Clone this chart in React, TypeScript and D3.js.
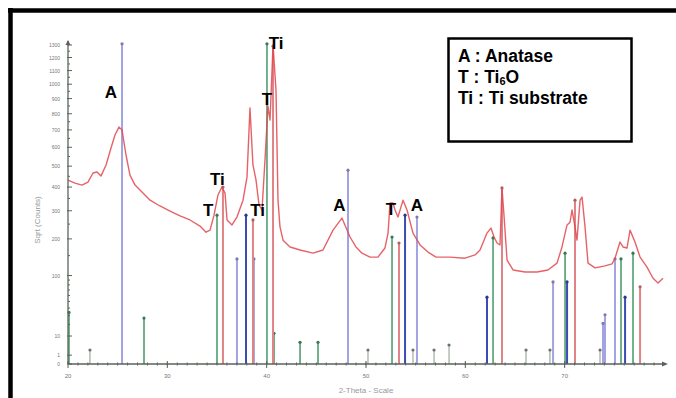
import React, { useEffect, useRef } from "react";
import * as d3 from "d3";

// measured scan (2-theta in degrees, counts)
const scanTheta = [
  20.0, 20.7, 21.41, 22.01, 22.52, 22.92, 23.32, 23.83, 24.33, 24.73, 25.13, 25.44, 25.84,
  26.24, 26.75, 27.25, 28.26, 29.26, 30.27, 31.28, 32.28, 33.29, 33.89, 34.3, 34.7, 35.1,
  35.5, 35.81, 36.01, 36.51, 37.01, 37.62, 38.02, 38.32, 38.62, 38.93, 39.23, 39.53, 39.83,
  40.13, 40.34, 40.64, 40.94, 41.14, 41.34, 41.65, 42.35, 43.36, 44.67, 45.67, 46.68, 47.58,
  48.39, 48.99, 49.6, 50.4, 51.21, 51.91, 52.22, 52.42, 52.72, 52.92, 53.22, 53.73, 54.13,
  54.73, 55.44, 56.24, 57.05, 58.46, 59.97, 60.98, 61.48, 62.18, 62.58, 62.89, 63.19, 63.49,
  63.69, 63.89, 64.2, 64.8, 66.01, 67.22, 68.32, 69.23, 69.73, 70.24, 70.54, 70.74, 71.04,
  71.24, 71.55, 71.75, 72.05, 72.35, 73.06, 74.06, 74.77, 75.07, 75.57, 75.87, 76.28, 76.58,
  77.08, 77.59, 78.29, 78.9, 79.4, 79.9,
];
const scanCounts = [
  432, 418, 409, 423, 466, 471, 451, 506, 596, 670, 717, 699, 558,
  456, 409, 387, 343, 319, 299, 280, 265, 243, 222, 229, 283, 365,
  400, 373, 265, 247, 276, 343, 446, 837, 506, 432, 323, 303, 531,
  850, 760, 1300, 958, 343, 240, 196, 175, 166, 157, 166, 229, 272,
  206, 175, 157, 146, 146, 172, 219, 331, 331, 303, 276, 343, 303,
  219, 181, 160, 146, 146, 143, 152, 166, 219, 236, 206, 187, 181,
  396, 283, 138, 113, 108, 108, 113, 130, 175, 247, 257, 303, 240,
  196, 343, 356, 240, 130, 118, 123, 128, 143, 190, 175, 172, 229,
  190, 146, 120, 94, 84, 94,
];

// reference pattern sticks
const lavenderTheta = [25.44, 37.01, 38.72, 48.19, 55.13, 68.83, 73.86, 74.06, 75.07];
const lavenderCounts = [1310, 141, 141, 480, 276, 86, 21, 31, 141];
const darkBlueTheta = [37.92, 53.93, 62.18, 70.24, 76.08];
const darkBlueCounts = [283, 283, 57, 86, 57];
const greenTheta = [20.1, 27.65, 35.0, 40.03, 40.74, 43.36, 45.17, 52.62, 62.79, 70.04, 75.67, 76.88];
const greenCounts = [34, 27, 283, 1310, 12, 6, 6, 206, 203, 157, 141, 157];
const redTheta = [35.6, 38.62, 40.64, 53.32, 63.69, 71.04, 77.59];
const redCounts = [400, 265, 1290, 187, 396, 343, 76];
const greyTheta = [22.21, 50.2, 54.73, 56.85, 58.36, 66.11, 68.52, 73.56];
const greyCounts = [2.5, 2.5, 2.5, 2.5, 4.6, 2.5, 2.5, 2.5];

// axis ticks
const xTickValues = [20, 30, 40, 50, 60, 70];
const yTickValues = [0, 1, 10, 100, 200, 300, 400, 500, 600, 700, 800, 900, 1000, 1100, 1200, 1300];

// peak labels
const peakText = ["A", "Ti", "T", "Ti", "T", "Ti", "A", "T", "A"];
const peakTheta = [23.7, 40.2, 39.5, 34.3, 33.6, 38.35, 46.7, 52.0, 54.5];
const peakCounts = [905, 1265, 860, 408, 280, 280, 300, 285, 300];

const legendRows = ["A : Anatase", "T : Ti|6|O", "Ti : Ti substrate"];

function drawChart(el: SVGSVGElement) {
  const svg = d3.select(el);
  svg.selectAll("*").remove();

  const x = d3.scaleLinear().domain([20, 80]).range([68, 664]);
  const y = d3.scaleSqrt().domain([0, 1300]).range([364, 45]);

  svg.append("rect").attr("width", 676).attr("height", 398).attr("fill", "#fff");

  // frame: left and top edges
  svg
    .append("line")
    .attr("x1", 10.5)
    .attr("x2", 10.5)
    .attr("y1", 8)
    .attr("y2", 398)
    .attr("stroke", "#000")
    .attr("stroke-width", 4.5);
  svg
    .append("line")
    .attr("x1", 8)
    .attr("x2", 676)
    .attr("y1", 10.5)
    .attr("y2", 10.5)
    .attr("stroke", "#000")
    .attr("stroke-width", 4.5);

  // sticks
  const groups = [
    { t: greyTheta, c: greyCounts, color: "#8a9a8a", w: 1 },
    { t: lavenderTheta, c: lavenderCounts, color: "#a3a3e4", w: 2 },
    { t: greenTheta, c: greenCounts, color: "#4f9e70", w: 1.6 },
    { t: redTheta, c: redCounts, color: "#e08387", w: 2 },
    { t: darkBlueTheta, c: darkBlueCounts, color: "#3b4cb3", w: 2 },
  ];
  groups.forEach((g) => {
    const pts = g.t.map((t, i) => ({ t, c: g.c[i] }));
    const gg = svg.append("g");
    gg.selectAll("line")
      .data(pts)
      .enter()
      .append("line")
      .attr("x1", (d) => x(d.t))
      .attr("x2", (d) => x(d.t))
      .attr("y1", y(0))
      .attr("y2", (d) => y(d.c))
      .attr("stroke", g.color)
      .attr("stroke-width", g.w);
    gg.selectAll("circle")
      .data(pts)
      .enter()
      .append("circle")
      .attr("cx", (d) => x(d.t))
      .attr("cy", (d) => y(d.c))
      .attr("r", 1.6)
      .attr("fill", d3.color(g.color)!.darker(0.8).toString());
  });

  // scan line
  const line = d3
    .line<number>()
    .x((d, i) => x(scanTheta[i]))
    .y((d) => y(d));
  svg
    .append("path")
    .datum(scanCounts)
    .attr("d", line)
    .attr("fill", "none")
    .attr("stroke", "#e2474d")
    .attr("stroke-width", 1.4)
    .attr("stroke-opacity", 0.85)
    .attr("stroke-linejoin", "round");

  // x axis
  const axisColor = "#5a635a";
  const xa = svg.append("g");
  xa.append("line")
    .attr("x1", x(20))
    .attr("x2", x(80))
    .attr("y1", y(0))
    .attr("y2", y(0))
    .attr("stroke", axisColor)
    .attr("stroke-width", 1.3);
  xa.append("path")
    .attr("d", `M${x(80) + 4},${y(0)} l-6,-2.5 l0,5 z`)
    .attr("fill", axisColor);
  xa.selectAll(".minor")
    .data(d3.range(21, 80))
    .enter()
    .append("line")
    .attr("x1", (d) => x(d))
    .attr("x2", (d) => x(d))
    .attr("y1", y(0) - 1.5)
    .attr("y2", y(0) + 1.5)
    .attr("stroke", axisColor);
  xa.selectAll(".major")
    .data(xTickValues)
    .enter()
    .append("line")
    .attr("x1", (d) => x(d))
    .attr("x2", (d) => x(d))
    .attr("y1", y(0) - 3)
    .attr("y2", y(0) + 4)
    .attr("stroke", axisColor);
  xa.selectAll("text")
    .data(xTickValues)
    .enter()
    .append("text")
    .attr("x", (d) => x(d))
    .attr("y", y(0) + 14)
    .attr("text-anchor", "middle")
    .attr("font-family", "Liberation Sans, Arial, sans-serif")
    .attr("font-size", 6)
    .attr("fill", "#777")
    .text((d) => d);
  svg
    .append("text")
    .attr("x", 366)
    .attr("y", 393)
    .attr("text-anchor", "middle")
    .attr("font-family", "Liberation Sans, Arial, sans-serif")
    .attr("font-size", 8)
    .attr("fill", "#999")
    .text("2-Theta - Scale");

  // y axis
  const ya = svg.append("g");
  ya.append("line")
    .attr("x1", x(20))
    .attr("x2", x(20))
    .attr("y1", y(0))
    .attr("y2", y(1300) - 4)
    .attr("stroke", axisColor)
    .attr("stroke-width", 1.3);
  ya.append("path")
    .attr("d", `M${x(20)},${y(1300) - 5} l-2.5,5 l5,0 z`)
    .attr("fill", axisColor);
  const minorY = d3.range(20, 100, 10).concat(d3.range(150, 1300, 100));
  ya.selectAll(".minor")
    .data(minorY)
    .enter()
    .append("line")
    .attr("x1", x(20))
    .attr("x2", x(20) + 2)
    .attr("y1", (d) => y(d))
    .attr("y2", (d) => y(d))
    .attr("stroke", axisColor);
  ya.selectAll(".major")
    .data(yTickValues)
    .enter()
    .append("line")
    .attr("x1", x(20) - 1)
    .attr("x2", x(20) + 4)
    .attr("y1", (d) => y(d))
    .attr("y2", (d) => y(d))
    .attr("stroke", axisColor);
  ya.selectAll("text")
    .data(yTickValues)
    .enter()
    .append("text")
    .attr("x", x(20) - 8)
    .attr("y", (d) => y(d) + 2)
    .attr("text-anchor", "end")
    .attr("font-family", "Liberation Sans, Arial, sans-serif")
    .attr("font-size", 5)
    .attr("fill", "#777")
    .text((d) => d);
  svg
    .append("text")
    .attr("transform", "translate(40,220) rotate(-90)")
    .attr("text-anchor", "middle")
    .attr("font-family", "Liberation Sans, Arial, sans-serif")
    .attr("font-size", 8)
    .attr("fill", "#999")
    .text("Sqrt (Counts)");

  // peak labels
  svg
    .append("g")
    .selectAll("text")
    .data(peakText)
    .enter()
    .append("text")
    .attr("x", (d, i) => x(peakTheta[i]))
    .attr("y", (d, i) => y(peakCounts[i]))
    .attr("font-family", "Liberation Sans, Arial, sans-serif")
    .attr("font-weight", "bold")
    .attr("font-size", 17)
    .attr("fill", "#000")
    .text((d) => d);

  // legend box
  svg
    .append("rect")
    .attr("x", 448.5)
    .attr("y", 38.5)
    .attr("width", 183)
    .attr("height", 103)
    .attr("fill", "#fff")
    .attr("stroke", "#000")
    .attr("stroke-width", 2.5);
  legendRows.forEach((row, i) => {
    const t = svg
      .append("text")
      .attr("x", 458)
      .attr("y", 62 + i * 21)
      .attr("font-family", "Liberation Sans, Arial, sans-serif")
      .attr("font-weight", "bold")
      .attr("font-size", 17.5)
      .attr("fill", "#000");
    const parts = row.split("|");
    parts.forEach((p, j) => {
      if (j % 2 === 1) {
        t.append("tspan").attr("font-size", 11).attr("dy", 2).text(p);
      } else {
        const s = t.append("tspan").text(p);
        if (j > 0) s.attr("dy", -2);
      }
    });
  });
}

export default function App() {
  const ref = useRef<SVGSVGElement>(null);
  useEffect(() => {
    if (ref.current) drawChart(ref.current);
  }, []);
  return (
    <>
      <style>{"html, body { margin: 0; padding: 0; overflow: hidden; }"}</style>
      <svg ref={ref} width={676} height={398} style={{ display: "block" }} />
    </>
  );
}
